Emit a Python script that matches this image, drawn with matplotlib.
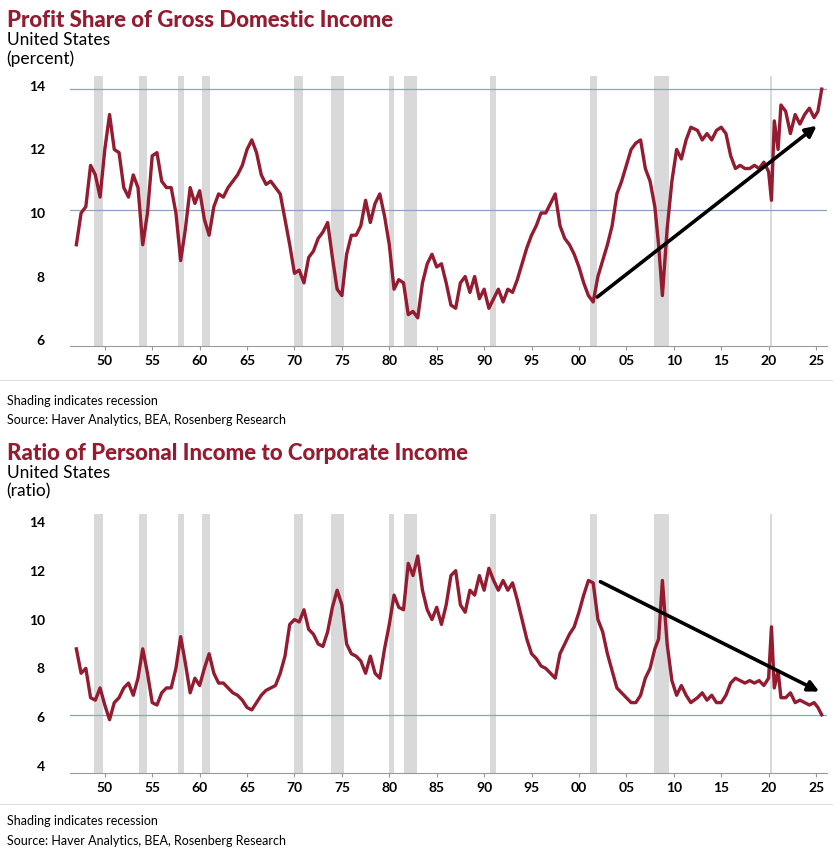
import numpy as np
import matplotlib.pyplot as plt

plt.rcParams['font.family'] = ['Lato', 'DejaVu Sans']

RED = "#941b30"

recessions = [(1948.9, 1949.8), (1953.6, 1954.4), (1957.7, 1958.3), (1960.3, 1961.1),
              (1969.9, 1970.9), (1973.9, 1975.2), (1980.0, 1980.5), (1981.5, 1982.9),
              (1990.6, 1991.2), (2001.2, 2001.9), (2007.9, 2009.5), (2020.1, 2020.4)]

profit_years = [1947, 1947.5, 1948, 1948.5, 1949, 1949.5, 1950, 1950.5, 1951, 1951.5, 1952, 1952.5,
                1953, 1953.5, 1954, 1954.5, 1955, 1955.5, 1956, 1956.5, 1957, 1957.5, 1958, 1958.5,
                1959, 1959.5, 1960, 1960.5, 1961, 1961.5, 1962, 1962.5, 1963, 1963.5, 1964, 1964.5,
                1965, 1965.5, 1966, 1966.5, 1967, 1967.5, 1968, 1968.5, 1969, 1969.5, 1970, 1970.5,
                1971, 1971.5, 1972, 1972.5, 1973, 1973.5, 1974, 1974.5, 1975, 1975.5, 1976, 1976.5,
                1977, 1977.5, 1978, 1978.5, 1979, 1979.5, 1980, 1980.5, 1981, 1981.5, 1982, 1982.5,
                1983, 1983.5, 1984, 1984.5, 1985, 1985.5, 1986, 1986.5, 1987, 1987.5, 1988, 1988.5,
                1989, 1989.5, 1990, 1990.5, 1991, 1991.5, 1992, 1992.5, 1993, 1993.5, 1994, 1994.5,
                1995, 1995.5, 1996, 1996.5, 1997, 1997.5, 1998, 1998.5, 1999, 1999.5, 2000, 2000.5,
                2001, 2001.5, 2002, 2002.5, 2003, 2003.5, 2004, 2004.5, 2005, 2005.5, 2006, 2006.5,
                2007, 2007.5, 2008, 2008.4, 2008.8, 2009.3, 2009.8, 2010.3, 2010.8, 2011.3, 2011.8,
                2012.5, 2013, 2013.5, 2014, 2014.5, 2015, 2015.5, 2016, 2016.5, 2017, 2017.5, 2018,
                2018.5, 2019, 2019.5, 2020, 2020.3, 2020.6, 2021, 2021.3, 2021.8, 2022.3, 2022.8,
                2023.3, 2023.8, 2024.3, 2024.8, 2025.2, 2025.6]
profit_share = [9.0, 10.0, 10.2, 11.5, 11.2, 10.5, 12.0, 13.1, 12.0, 11.9, 10.8, 10.5,
                11.2, 10.8, 9.0, 10.0, 11.8, 11.9, 11.0, 10.8, 10.8, 10.0, 8.5, 9.5,
                10.8, 10.3, 10.7, 9.8, 9.3, 10.2, 10.6, 10.5, 10.8, 11.0, 11.2, 11.5,
                12.0, 12.3, 11.9, 11.2, 10.9, 11.0, 10.8, 10.6, 9.8, 9.0, 8.1, 8.2,
                7.8, 8.6, 8.8, 9.2, 9.4, 9.7, 8.6, 7.6, 7.4, 8.7, 9.3, 9.3,
                9.6, 10.4, 9.7, 10.3, 10.6, 9.9, 9.0, 7.6, 7.9, 7.8, 6.8, 6.9,
                6.7, 7.8, 8.4, 8.7, 8.3, 8.4, 7.8, 7.1, 7.0, 7.8, 8.0, 7.5,
                8.0, 7.3, 7.6, 7.0, 7.3, 7.6, 7.2, 7.6, 7.5, 7.9, 8.4, 8.9,
                9.3, 9.6, 10.0, 10.0, 10.3, 10.6, 9.6, 9.2, 9.0, 8.7, 8.3, 7.8,
                7.4, 7.2, 8.0, 8.5, 9.0, 9.6, 10.6, 11.0, 11.5, 12.0, 12.2, 12.3,
                11.4, 11.0, 10.2, 9.0, 7.4, 9.5, 11.0, 12.0, 11.7, 12.3, 12.7,
                12.6, 12.3, 12.5, 12.3, 12.6, 12.7, 12.5, 11.8, 11.4, 11.5, 11.4, 11.4,
                11.5, 11.4, 11.6, 11.3, 10.4, 12.9, 12.0, 13.4, 13.2, 12.5, 13.1,
                12.8, 13.1, 13.3, 13.0, 13.2, 13.9]

ratio_years = profit_years
ratio_values = [8.8, 7.8, 8.0, 6.8, 6.7, 7.2, 6.5, 5.9, 6.6, 6.8, 7.2, 7.4,
                6.9, 7.6, 8.8, 7.8, 6.6, 6.5, 7.0, 7.2, 7.2, 8.0, 9.3, 8.2,
                7.0, 7.6, 7.3, 8.0, 8.6, 7.8, 7.4, 7.4, 7.2, 7.0, 6.9, 6.7,
                6.4, 6.3, 6.6, 6.9, 7.1, 7.2, 7.3, 7.8, 8.5, 9.8, 10.0, 9.9,
                10.4, 9.6, 9.4, 9.0, 8.9, 9.5, 10.5, 11.2, 10.6, 9.0, 8.6, 8.5,
                8.3, 7.8, 8.5, 7.8, 7.6, 8.8, 9.8, 11.0, 10.5, 10.4, 12.3, 11.8,
                12.6, 11.2, 10.4, 10.0, 10.5, 9.8, 10.6, 11.8, 12.0, 10.6, 10.3, 11.2,
                11.0, 11.8, 11.2, 12.1, 11.6, 11.2, 11.6, 11.2, 11.5, 10.8, 10.0, 9.2,
                8.6, 8.4, 8.1, 8.0, 7.8, 7.6, 8.6, 9.0, 9.4, 9.7, 10.3, 11.0,
                11.6, 11.5, 10.0, 9.5, 8.6, 7.9, 7.2, 7.0, 6.8, 6.6, 6.6, 6.9,
                7.6, 8.0, 8.8, 9.2, 11.6, 9.0, 7.5, 6.9, 7.3, 6.9, 6.6,
                6.8, 7.0, 6.7, 6.9, 6.6, 6.6, 6.9, 7.4, 7.6, 7.5, 7.4, 7.5,
                7.4, 7.5, 7.3, 7.6, 9.7, 7.2, 7.9, 6.8, 6.8, 7.0, 6.6,
                6.7, 6.6, 6.5, 6.6, 6.4, 6.1]

xticks = [1950, 1955, 1960, 1965, 1970, 1975, 1980, 1985, 1990, 1995,
          2000, 2005, 2010, 2015, 2020, 2025]
xticklabels = ["50", "55", "60", "65", "70", "75", "80", "85", "90", "95",
               "00", "05", "10", "15", "20", "25"]


def panel(ax, years, values, ylim, yticks, hlines, arrow):
    for a, b in recessions:
        ax.axvspan(a, b, color="#d9d9d9", lw=0, zorder=0)
    for h in hlines:
        ax.axhline(h, color="#8ea3c0", lw=0.9, zorder=1)
    ax.plot(years, values, color=RED, lw=2.4, zorder=3)
    ax.annotate("", xy=arrow[1], xytext=arrow[0],
                arrowprops=dict(arrowstyle="-|>", color="black", lw=2.6,
                                mutation_scale=16), zorder=4)
    ax.set_xlim(1946.3, 2026.2)
    ax.set_ylim(*ylim)
    ax.set_yticks(yticks)
    ax.set_xticks(xticks)
    ax.set_xticklabels(xticklabels)
    for s in ["top", "right", "left"]:
        ax.spines[s].set_visible(False)
    ax.spines["bottom"].set_color("#999999")
    ax.tick_params(axis="y", length=0, labelsize=10, pad=18)
    ax.tick_params(axis="x", length=3, color="#999999", labelsize=10)
    for lab in ax.get_xticklabels() + ax.get_yticklabels():
        lab.set_fontweight("bold")


fig = plt.figure(figsize=(8.4, 8.49), dpi=100)

ax1 = fig.add_axes([0.083, 0.592, 0.902, 0.318])
panel(ax1, profit_years, profit_share, (5.8, 14.3), [6, 8, 10, 12, 14],
      [13.9, 10.1], ((2001.7, 7.3), (2025.3, 12.8)))

ax2 = fig.add_axes([0.083, 0.089, 0.902, 0.305])
panel(ax2, ratio_years, ratio_values, (3.7, 14.3), [4, 6, 8, 10, 12, 14],
      [6.1], ((2002.0, 11.6), (2025.6, 7.0)))

fig.text(0.008, 0.988, "Profit Share of Gross Domestic Income", color=RED,
         fontsize=16, fontweight="black", va="top")
fig.text(0.008, 0.962, "United States", fontsize=12.5, va="top")
fig.text(0.008, 0.941, "(percent)", fontsize=12.5, va="top")
fig.add_artist(plt.Line2D([0.0, 0.99], [0.552, 0.552], color="#e0e0e0", lw=0.8))
fig.text(0.008, 0.528, "Shading indicates recession", fontsize=9, va="center")
fig.text(0.008, 0.505, "Source: Haver Analytics, BEA, Rosenberg Research", fontsize=9, va="center")

fig.text(0.008, 0.478, "Ratio of Personal Income to Corporate Income", color=RED,
         fontsize=16, fontweight="black", va="top")
fig.text(0.008, 0.452, "United States", fontsize=12.5, va="top")
fig.text(0.008, 0.431, "(ratio)", fontsize=12.5, va="top")
fig.add_artist(plt.Line2D([0.0, 0.99], [0.053, 0.053], color="#e0e0e0", lw=0.8))
fig.text(0.008, 0.033, "Shading indicates recession", fontsize=9, va="center")
fig.text(0.008, 0.010, "Source: Haver Analytics, BEA, Rosenberg Research", fontsize=9, va="center")

fig.savefig("out.png", dpi=100)
